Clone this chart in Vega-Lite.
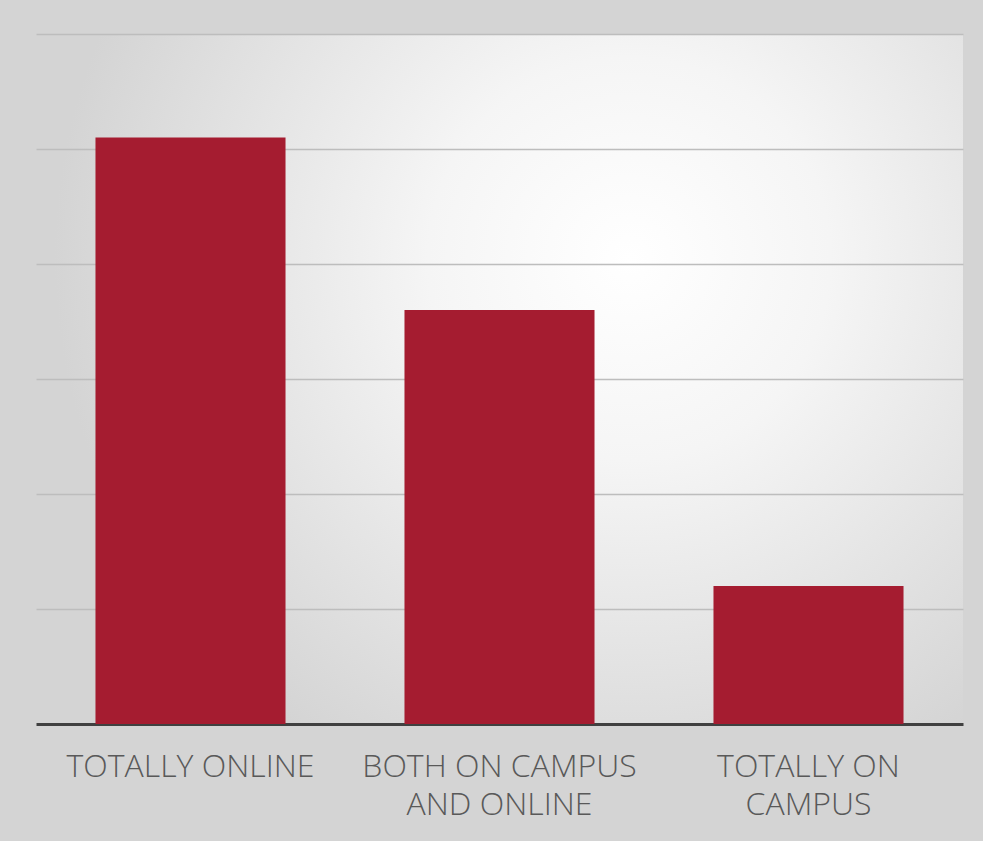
{
  "$schema": "https://vega.github.io/schema/vega-lite/v6.json",
  "width": 927,
  "height": 690,
  "padding": {"left": 36, "top": 34, "right": 20, "bottom": 40},
  "background": "#d4d4d4",
  "data": {
    "values": [
      {"mode": "TOTALLY ONLINE", "share": 51},
      {"mode": "BOTH ON CAMPUS AND ONLINE", "share": 36},
      {"mode": "TOTALLY ON CAMPUS", "share": 12}
    ]
  },
  "mark": {"type": "bar", "color": "#a51c30"},
  "encoding": {
    "x": {
      "field": "mode",
      "type": "nominal",
      "sort": null,
      "scale": {"paddingInner": 0.385, "paddingOuter": 0.1925},
      "axis": {
        "title": null,
        "labelAngle": 0,
        "labelExpr": "datum.value == 'BOTH ON CAMPUS AND ONLINE' ? ['BOTH ON CAMPUS','AND ONLINE'] : datum.value == 'TOTALLY ON CAMPUS' ? ['TOTALLY ON','CAMPUS'] : datum.value",
        "labelFont": "Open Sans",
        "labelFontWeight": 300,
        "labelFontSize": 32,
        "labelColor": "#595959",
        "labelLineHeight": 38,
        "labelPadding": 27,
        "labelBaseline": "top",
        "labelLimit": 500,
        "ticks": false,
        "domainColor": "#404040",
        "domainWidth": 3,
        "grid": false
      }
    },
    "y": {
      "field": "share",
      "type": "quantitative",
      "scale": {"domain": [0, 60], "nice": false},
      "axis": {
        "title": null,
        "labels": false,
        "ticks": false,
        "domain": false,
        "grid": true,
        "gridColor": "#bdbdbd",
        "gridWidth": 1.5,
        "values": [10, 20, 30, 40, 50, 60]
      }
    }
  },
  "config": {
    "view": {
      "stroke": null,
      "fill": {
        "gradient": "radial",
        "x1": 0.64, "y1": 0.37, "r1": 0,
        "x2": 0.64, "y2": 0.37, "r2": 0.62,
        "stops": [
          {"offset": 0, "color": "#ffffff"},
          {"offset": 0.35, "color": "#f5f5f5"},
          {"offset": 1, "color": "#d4d4d4"}
        ]
      }
    }
  }
}
